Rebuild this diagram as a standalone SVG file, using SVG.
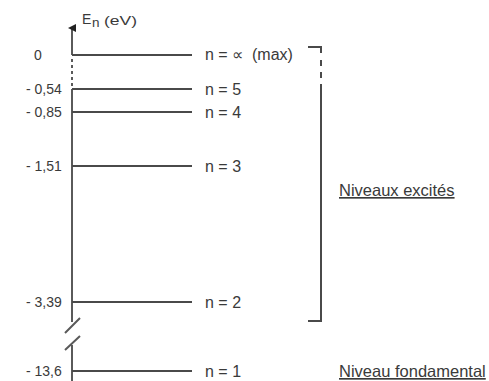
<svg xmlns="http://www.w3.org/2000/svg" width="489" height="381" viewBox="0 0 489 381">
<style>
text{font-family:"Liberation Sans",Arial,sans-serif;fill:#3a3a3a}
.v{font-size:14px}
.n{font-size:16px}
.lbl{font-size:16.5px;text-decoration:underline}
.lvl{stroke:#4a4a4a;stroke-width:2;fill:none}
.ax{stroke:#5a5a5a;stroke-width:2;fill:none}
</style>
<defs>
<marker id="arr" markerWidth="8" markerHeight="8" refX="4" refY="4" orient="auto" markerUnits="userSpaceOnUse">
<path d="M0,8 L4,0 L8,8 Z" fill="#222"/>
</marker>
</defs>
<rect width="489" height="381" fill="#fff"/>
<g id="axis">
<path class="ax" d="M72,55 V28" marker-end="url(#arr)"/>
<path class="ax" d="M72,59 V87" stroke-dasharray="3,3"/>
<path class="ax" d="M72,89 V322"/>
<path class="ax" d="M72,345 V381"/>
<path class="ax" d="M65,333 L80,318 M65,350 L80,336"/>
<text x="82" y="24" style="font-size:14px">E</text>
<text x="92" y="27" style="font-size:13.5px">n</text>
<text x="104" y="25" style="font-size:13px" textLength="33" lengthAdjust="spacingAndGlyphs">(eV)</text>
</g>
<g id="level-inf">
<line class="lvl" x1="72" y1="55" x2="192" y2="55"/>
<text class="v" x="34" y="60">0</text>
<text class="n" x="205" y="60" xml:space="preserve">n = ∝  (max)</text>
</g>
<g id="level-5">
<line class="lvl" x1="72" y1="89" x2="192" y2="89"/>
<text class="v" x="26" y="94">- 0,54</text>
<text class="n" x="205" y="95">n = 5</text>
</g>
<g id="level-4">
<line class="lvl" x1="72" y1="112" x2="192" y2="112"/>
<text class="v" x="26" y="117">- 0,85</text>
<text class="n" x="205" y="118">n = 4</text>
</g>
<g id="level-3">
<line class="lvl" x1="72" y1="166" x2="192" y2="166"/>
<text class="v" x="26" y="171">- 1,51</text>
<text class="n" x="205" y="172">n = 3</text>
</g>
<g id="level-2">
<line class="lvl" x1="72" y1="302" x2="192" y2="302"/>
<text class="v" x="26" y="307">- 3,39</text>
<text class="n" x="205" y="308">n = 2</text>
</g>
<g id="level-1">
<line class="lvl" x1="72" y1="371" x2="192" y2="371"/>
<text class="v" x="26" y="376">- 13,6</text>
<text class="n" x="205" y="377">n = 1</text>
</g>
<g id="bracket">
<path class="lvl" d="M308,47 H321 V53"/>
<path class="lvl" d="M321,60 V90" stroke-dasharray="6,6"/>
<path class="lvl" d="M321,90 V321 H308"/>
</g>
<g id="label-excites">
<text class="lbl" x="339" y="196">Niveaux excités</text>
</g>
<g id="label-fondamental">
<text class="lbl" x="339" y="377">Niveau fondamental</text>
</g>
</svg>
